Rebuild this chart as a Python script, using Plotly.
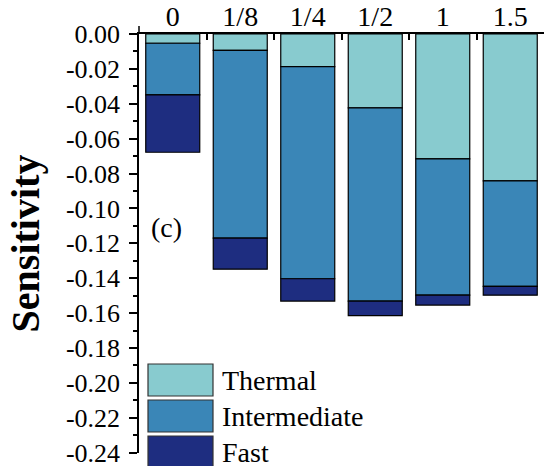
import plotly.graph_objects as go

categories = ["0", "1/8", "1/4", "1/2", "1", "1.5"]
series_names = ["Thermal", "Intermediate", "Fast"]
thermal = [-0.0053, -0.0094, -0.0187, -0.0423, -0.0716, -0.0842]
intermediate = [-0.0296, -0.1076, -0.1216, -0.1108, -0.0781, -0.0605]
fast = [-0.0329, -0.0178, -0.0128, -0.0083, -0.0057, -0.0050]
colors = ["#88CBCF", "#3A86B7", "#1E2D80"]
y_ticks = [0.0, -0.02, -0.04, -0.06, -0.08, -0.10, -0.12, -0.14, -0.16, -0.18, -0.20, -0.22, -0.24]

FONT = "Liberation Serif"
PLOT_TOP, PLOT_BOT, PLOT_L, PLOT_R = 34, 453, 139, 544
PH = PLOT_BOT - PLOT_TOP
PW = PLOT_R - PLOT_L

fig = go.Figure()
for name, vals, col in zip(series_names, [thermal, intermediate, fast], colors):
    fig.add_trace(go.Bar(
        x=categories, y=vals, name=name, width=0.8,
        marker=dict(color=col, line=dict(color="black", width=1.2)),
        showlegend=False,
    ))

fig.update_layout(
    width=546, height=466,
    margin=dict(l=PLOT_L, r=546 - PLOT_R, t=PLOT_TOP, b=466 - PLOT_BOT),
    barmode="relative",
    plot_bgcolor="white", paper_bgcolor="white",
    font=dict(family=FONT, color="black", size=26),
    xaxis=dict(
        side="top", type="category", automargin=False,
        showline=True, linecolor="black", linewidth=1.5,
        ticks="inside", tickson="boundaries", ticklen=6, tickwidth=1.5, tickcolor="black",
        tickfont=dict(family=FONT, size=28), showgrid=False, zeroline=False,
        ticklabelstandoff=-5,
        range=[-0.5, 5.5],
    ),
    yaxis=dict(
        range=[-0.2402, 0.0], automargin=False,
        tickvals=y_ticks, ticktext=[f"{v:.2f}" for v in y_ticks],
        ticklabeloverflow="allow",
        ticklabelstandoff=4,
        showline=True, linecolor="black", linewidth=1.5,
        ticks="outside", ticklen=8, tickwidth=1.5, tickcolor="black",
        minor=dict(ticks="outside", ticklen=4, dtick=0.01, tickwidth=1.5, tickcolor="black", showgrid=False),
        showgrid=False, zeroline=False,
        tickfont=dict(family=FONT, size=26),
        title=dict(text="<b>Sensitivity</b>", font=dict(family=FONT, size=40), standoff=14),
    ),
)

# axis line extending slightly above zero
fig.add_shape(type="line", xref="paper", yref="paper", x0=0, x1=0, y0=1, y1=1 + 8 / PH,
              line=dict(color="black", width=1.5))

# panel label
fig.add_annotation(text="(c)", xref="paper", yref="paper", x=(149 - PLOT_L) / PW, y=(PLOT_BOT - 228) / PH,
                   xanchor="left", yanchor="middle", showarrow=False, font=dict(family=FONT, size=28))

# manual legend
sw_tops = [364, 400, 436]
for name, col, top in zip(series_names, colors, sw_tops):
    y1 = (PLOT_BOT - top) / PH
    y0 = (PLOT_BOT - (top + 32)) / PH
    fig.add_shape(type="rect", xref="paper", yref="paper",
                  x0=(148 - PLOT_L) / PW, x1=(213 - PLOT_L) / PW, y0=y0, y1=y1,
                  fillcolor=col, line=dict(color="#333333", width=1.2))
    fig.add_annotation(text=name, xref="paper", yref="paper", x=(220 - PLOT_L) / PW,
                       y=(y0 + y1) / 2, xanchor="left", yanchor="middle", showarrow=False,
                       font=dict(family=FONT, size=28))

fig.write_html("out.html")
